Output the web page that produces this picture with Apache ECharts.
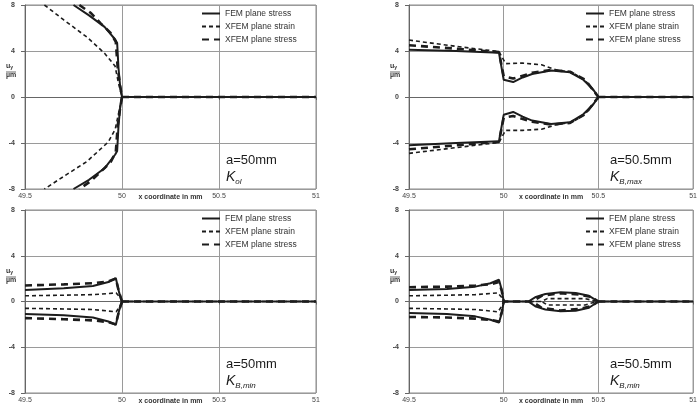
<!DOCTYPE html>
<html>
<head>
<meta charset="utf-8">
<script src="https://cdn.jsdelivr.net/npm/echarts@6.0.0/dist/echarts.min.js"></script>
<style>
  html, body { margin: 0; padding: 0; background: #fff; }
  #chart { width: 700px; height: 414px; }
</style>
</head>
<body>
<div id="chart"></div>
<script>
// series names (same three in every panel)
var seriesNames = ['FEM plane stress', 'XFEM plane strain', 'XFEM plane stress'];

// panel texts
var panelA = ['a=50mm', 'a=50.5mm', 'a=50mm', 'a=50.5mm'];
var panelK = ['ol', 'B,max', 'B,min', 'B,min'];

// axis ranges / ticks
var xTicks = [49.5, 50, 50.5, 51];
var yTicks = [-8, -4, 0, 4, 8];

/* ---- panel 1 : a=50mm, K_ol ---- */
var p1FemUp = [[49.75, 8], [49.83, 7.1], [49.91, 6.1], [49.965, 5.0], [49.975, 4.7], [49.982, 2.5], [49.99, 1.0], [50, 0]];
var p1FemLo = [[50, 0], [49.99, -1.0], [49.982, -2.5], [49.975, -4.7], [49.965, -5.0], [49.91, -6.2], [49.83, -7.2], [49.75, -8]];
var p1StrainUp = [[49.6, 8], [49.7, 6.7], [49.82, 5.2], [49.91, 3.8], [49.964, 2.7], [49.982, 1.2], [50, 0]];
var p1StrainLo = [[50, 0], [49.985, -1.2], [49.965, -2.8], [49.93, -3.9], [49.82, -5.6], [49.7, -6.9], [49.6, -8]];
var p1StressUp = [[49.78, 8], [49.84, 7.3], [49.89, 6.4], [49.94, 5.6], [49.968, 4.8], [49.978, 2.5], [49.99, 1.0], [50, 0]];
var p1StressLo = [[50, 0], [49.99, -1.0], [49.978, -2.5], [49.968, -4.8], [49.94, -5.7], [49.89, -6.5], [49.84, -7.3], [49.78, -8]];
var p1Tail = [[50, 0], [51, 0]];

/* ---- panel 2 : a=50.5mm, K_B,max ---- */
var p2FemUp = [[49.5, 4.1], [49.75, 4.0], [49.975, 3.85], [50.0, 1.5], [50.05, 1.3], [50.1, 1.7], [50.15, 2.0], [50.25, 2.3], [50.35, 2.15], [50.42, 1.5], [50.47, 0.7], [50.5, 0]];
var p2FemLo = [[49.5, -4.2], [49.75, -4.0], [49.975, -3.85], [50.0, -1.55], [50.05, -1.3], [50.1, -1.7], [50.15, -2.05], [50.25, -2.35], [50.35, -2.2], [50.42, -1.5], [50.47, -0.7], [50.5, 0]];
var p2StrainUp = [[49.5, 4.95], [49.75, 4.4], [49.975, 3.95], [50.01, 2.9], [50.1, 2.95], [50.2, 2.8], [50.28, 2.35], [50.36, 2.15], [50.43, 1.45], [50.5, 0]];
var p2StrainLo = [[49.5, -4.9], [49.75, -4.4], [49.975, -3.95], [50.01, -2.9], [50.1, -2.9], [50.2, -2.8], [50.28, -2.4], [50.36, -2.2], [50.43, -1.5], [50.5, 0]];
var p2StressUp = [[49.5, 4.5], [49.75, 4.2], [49.975, 3.9], [50.0, 1.8], [50.05, 1.6], [50.15, 2.1], [50.25, 2.35], [50.35, 2.2], [50.43, 1.5], [50.5, 0]];
var p2StressLo = [[49.5, -4.55], [49.75, -4.2], [49.975, -3.9], [50.0, -1.8], [50.05, -1.65], [50.15, -2.15], [50.25, -2.4], [50.35, -2.25], [50.43, -1.5], [50.5, 0]];
var p2Tail = [[50.5, 0], [51, 0]];

/* ---- panel 3 : a=50mm, K_B,min ---- */
var p3FemUp = [[49.5, 1.0], [49.7, 1.15], [49.85, 1.35], [49.93, 1.7], [49.968, 2.05], [49.985, 0.8], [50, 0]];
var p3FemLo = [[49.5, -1.1], [49.7, -1.2], [49.85, -1.4], [49.93, -1.75], [49.968, -2.05], [49.985, -0.8], [50, 0]];
var p3StrainUp = [[49.5, 0.5], [49.7, 0.55], [49.85, 0.6], [49.97, 0.75], [49.99, 0.35], [50, 0]];
var p3StrainLo = [[49.5, -0.6], [49.7, -0.65], [49.85, -0.7], [49.97, -0.9], [49.99, -0.4], [50, 0]];
var p3StressUp = [[49.5, 1.4], [49.7, 1.5], [49.85, 1.6], [49.93, 1.75], [49.968, 2.0], [49.985, 0.8], [50, 0]];
var p3StressLo = [[49.5, -1.45], [49.7, -1.55], [49.85, -1.65], [49.93, -1.8], [49.968, -2.0], [49.985, -0.8], [50, 0]];
var p3Tail = [[50, 0], [51, 0]];

/* ---- panel 4 : a=50.5mm, K_B,min ---- */
var p4FemUp = [[49.5, 1.0], [49.7, 1.1], [49.85, 1.3], [49.93, 1.6], [49.975, 1.9], [49.99, 1.0], [50, 0], [50.13, 0], [50.17, 0.4], [50.22, 0.65], [50.3, 0.8], [50.38, 0.75], [50.45, 0.5], [50.5, 0]];
var p4FemLo = [[49.5, -1.0], [49.7, -1.1], [49.85, -1.3], [49.93, -1.6], [49.975, -1.85], [49.99, -1.0], [50, 0], [50.13, 0], [50.17, -0.45], [50.22, -0.7], [50.3, -0.85], [50.38, -0.8], [50.45, -0.55], [50.5, 0]];
var p4StrainUp = [[49.5, 0.5], [49.7, 0.55], [49.85, 0.6], [49.97, 0.75], [49.99, 0.35], [50, 0], [50.2, 0], [50.23, 0.25], [50.43, 0.25], [50.47, 0.1], [50.5, 0]];
var p4StrainLo = [[49.5, -0.6], [49.7, -0.65], [49.85, -0.7], [49.97, -0.9], [49.99, -0.4], [50, 0], [50.2, 0], [50.23, -0.3], [50.43, -0.3], [50.47, -0.1], [50.5, 0]];
var p4StressUp = [[49.5, 1.25], [49.7, 1.3], [49.85, 1.4], [49.93, 1.5], [49.975, 1.7], [49.99, 0.9], [50, 0], [50.15, 0], [50.2, 0.5], [50.3, 0.72], [50.4, 0.6], [50.46, 0.4], [50.5, 0]];
var p4StressLo = [[49.5, -1.35], [49.7, -1.4], [49.85, -1.5], [49.93, -1.6], [49.975, -1.75], [49.99, -0.9], [50, 0], [50.15, 0], [50.2, -0.55], [50.3, -0.78], [50.4, -0.65], [50.46, -0.42], [50.5, 0]];
var p4Tail = [[50.5, 0], [51, 0]];

var panels = [
    { fem: [p1FemUp, p1FemLo], strain: [p1StrainUp, p1StrainLo], stress: [p1StressUp, p1StressLo], tail: p1Tail },
    { fem: [p2FemUp, p2FemLo], strain: [p2StrainUp, p2StrainLo], stress: [p2StressUp, p2StressLo], tail: p2Tail },
    { fem: [p3FemUp, p3FemLo], strain: [p3StrainUp, p3StrainLo], stress: [p3StressUp, p3StressLo], tail: p3Tail },
    { fem: [p4FemUp, p4FemLo], strain: [p4StrainUp, p4StrainLo], stress: [p4StressUp, p4StressLo], tail: p4Tail }
];

// panel boxes (pixels)
var boxes = [
    { left: 25, top: 5, width: 291, height: 184 },
    { left: 409, top: 5, width: 291, height: 184 },
    { left: 25, top: 210, width: 291, height: 183 },
    { left: 409, top: 210, width: 291, height: 183 }
];

var FONT = 'Liberation Sans, Arial, sans-serif';
var INK = '#1c1c1c';

// join branches with a gap so the line breaks between them
function joinBranches(branches, tail) {
    var out = [];
    branches.concat([tail]).forEach(function (b, i) {
        if (i > 0) out.push(['-', '-']);
        out = out.concat(b);
    });
    return out;
}

var styles = [
    { width: 2, type: 'solid' },
    { width: 1.6, type: [4, 3] },
    { width: 2.6, type: [7, 5] }
];

var grid = [], xAxis = [], yAxis = [], series = [], legend = [], graphic = [];

boxes.forEach(function (b, i) {
    grid.push({ left: b.left, top: b.top, width: b.width, height: b.height, show: true, borderColor: '#8a8a8a', borderWidth: 1, containLabel: false });
    xAxis.push({
        type: 'value', gridIndex: i, min: xTicks[0], max: xTicks[xTicks.length - 1], interval: 0.5,
        name: 'x coordinate in mm', nameLocation: 'middle', nameGap: 5, nameMoveOverlap: false,
        nameTextStyle: { fontSize: 7, fontWeight: 'bold', color: '#333', fontFamily: FONT, verticalAlign: 'top' },
        axisLine: { lineStyle: { color: '#666' } },
        axisTick: { show: true, length: 3, lineStyle: { color: '#666' } },
        axisLabel: { fontSize: 7, color: '#444', margin: 4, fontFamily: FONT },
        splitLine: { show: true, lineStyle: { color: '#9a9a9a', width: 1 } }
    });
    yAxis.push({
        type: 'value', gridIndex: i, min: yTicks[0], max: yTicks[yTicks.length - 1], interval: 4,
        axisLine: { show: true, lineStyle: { color: '#666' } },
        axisTick: { show: true, length: 4, lineStyle: { color: '#666' } },
        axisLabel: { fontSize: 7, color: '#444', margin: 10, fontFamily: FONT, fontWeight: 'bold' },
        splitLine: { show: true, lineStyle: { color: '#9a9a9a', width: 1 } }
    });

    var p = panels[i];
    [p.fem, p.strain, p.stress].forEach(function (branches, k) {
        series.push({
            name: seriesNames[k], type: 'line', xAxisIndex: i, yAxisIndex: i,
            data: joinBranches(branches, p.tail),
            symbol: 'none', connectNulls: false, clip: true, silent: true,
            lineStyle: { color: INK, width: styles[k].width, type: styles[k].type },
            itemStyle: { color: INK }
        });
    });

    legend.push({
        data: seriesNames, orient: 'vertical', left: b.left + 176, top: b.top + 4,
        padding: 0, itemGap: 4, itemWidth: 18, itemHeight: 8, selectedMode: false,
        itemStyle: { opacity: 0 },
        textStyle: { fontSize: 8.5, color: '#333', fontFamily: FONT }
    });

    // a=.. and K label
    graphic.push({
        type: 'text', left: b.left + 201, top: b.top + b.height - 35,
        style: { text: panelA[i], font: '13px ' + FONT, fill: INK }
    });
    graphic.push({
        type: 'text', left: b.left + 201, top: b.top + b.height - 19,
        style: {
            text: '{k|K}{s|' + panelK[i] + '}',
            rich: {
                k: { font: 'italic 14px ' + FONT, fill: INK },
                s: { font: 'italic 8px ' + FONT, fill: INK, padding: [9, 0, 0, 0] }
            }
        }
    });
    // u_y / µm label
    graphic.push({
        type: 'text', left: b.left - 19, top: b.top + 58,
        style: {
            text: '{u|u}{s|y}\n{m|µm}', align: 'left',
            rich: {
                u: { font: 'bold 7px ' + FONT, fill: '#333' },
                s: { font: 'bold 5px ' + FONT, fill: '#333', padding: [3, 0, 0, 0] },
                m: { font: 'bold 7px ' + FONT, fill: '#333', padding: [1, 0, 0, 0] }
            }
        }
    });
    graphic.push({
        type: 'line', shape: { x1: b.left - 19, y1: b.top + 67, x2: b.left - 9, y2: b.top + 67 },
        style: { stroke: '#444', lineWidth: 0.8 }
    });
});

var myChart = echarts.init(document.getElementById('chart'), null, { renderer: 'canvas' });
myChart.setOption({
    animation: false,
    backgroundColor: '#fff',
    grid: grid,
    xAxis: xAxis,
    yAxis: yAxis,
    legend: legend,
    series: series,
    graphic: graphic
});
</script>
</body>
</html>
